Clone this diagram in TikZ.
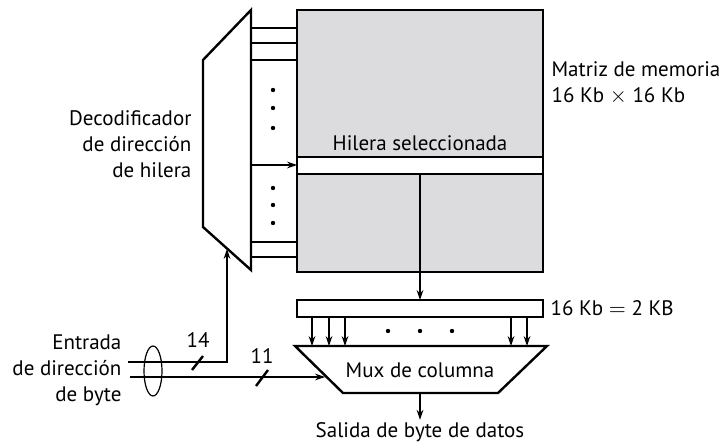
\documentclass[tikz,border=0pt]{standalone}
\usepackage{fontspec}
\setmainfont{PT Sans}
\usepackage{tikz}
\usetikzlibrary{arrows.meta}
\definecolor{arraygray}{RGB}{220,220,222}

\begin{document}
\begin{tikzpicture}[x=0.5pt,y=-0.5pt,
    line width=0.6pt,
    heavy/.style={line width=1.2pt},
    arr/.style={-{Stealth[length=5pt,width=3.4pt]}},
    lbl/.style={font=\fontsize{10.5}{13}\selectfont, inner sep=1pt},
    dot/.style={fill=black, circle, inner sep=0pt, minimum size=2.2pt}]
    \useasboundingbox (0,0) rectangle (726,448);
    \begin{scope}
\draw[fill=arraygray] (297,10) rectangle (543,272);
\draw[fill=white] (297,157) rectangle (543,174);
\node[lbl] (sel) at (420,143) {Hilera seleccionada};
\node[lbl, align=left, anchor=west] (matriz) at (549,83) {Matriz de memoria\\16 Kb $\times$ 16 Kb};
\draw[heavy] (203,60) -- (251,10) -- (251,270) -- (203,227) -- cycle;
\node[lbl, align=right, anchor=east] (deco) at (194,144) {Decodificador\\de dirección\\de hilera};
\foreach \y in {28,43,60,242,257}
    \draw (251,\y) -- (297,\y);
\foreach \y in {90,108,128,188,205,223}
    \node[dot] at (273,\y) {};
\coordinate (decout) at (251,165);
\coordinate (rowin) at (297,165);
\draw[arr] (decout) -- (rowin);
\coordinate (rowout) at (420,174);
\coordinate (bufin) at (420,300);
\draw[arr] (rowout) -- (bufin);
    \end{scope}
    \begin{scope}
\draw[fill=white] (297,300) rectangle (543,317);
\node[lbl, anchor=west] (kb) at (548,308) {16 Kb $=$ 2 KB};
\foreach \x in {312,329,345,511,527}
    \draw[arr] (\x,317) -- (\x,346);
\foreach \x in {388,420,452}
    \node[dot] at (\x,331) {};
\draw[heavy] (295,346) -- (547,346) -- (498,393) -- (343,393) -- cycle;
\node[lbl] (mux) at (420,370) {Mux de columna};
\coordinate (muxout) at (420,393);
\node[lbl] (out) at (420,432) {Salida de byte de datos};
\draw[arr] (muxout) -- (out);
    \end{scope}
    \begin{scope}
\node[lbl, align=right, anchor=east] (inp) at (124,370) {Entrada\\de dirección\\de byte};
\coordinate (in14) at (128,362);
\coordinate (dec14) at (227,249);
\draw[arr] (in14) -| (dec14);
\coordinate (in11) at (130,377);
\coordinate (mux11) at (325,377);
\draw[arr] (in11) -- (mux11);
\draw (153,371) ellipse [x radius=9, y radius=25];
\draw[heavy] (192,370) -- (203,356);
\node[lbl] (n14) at (198,340) {14};
\draw[heavy] (256,386) -- (268,370);
\node[lbl] (n11) at (262,356) {11};
    \end{scope}
\end{tikzpicture}
\end{document}
